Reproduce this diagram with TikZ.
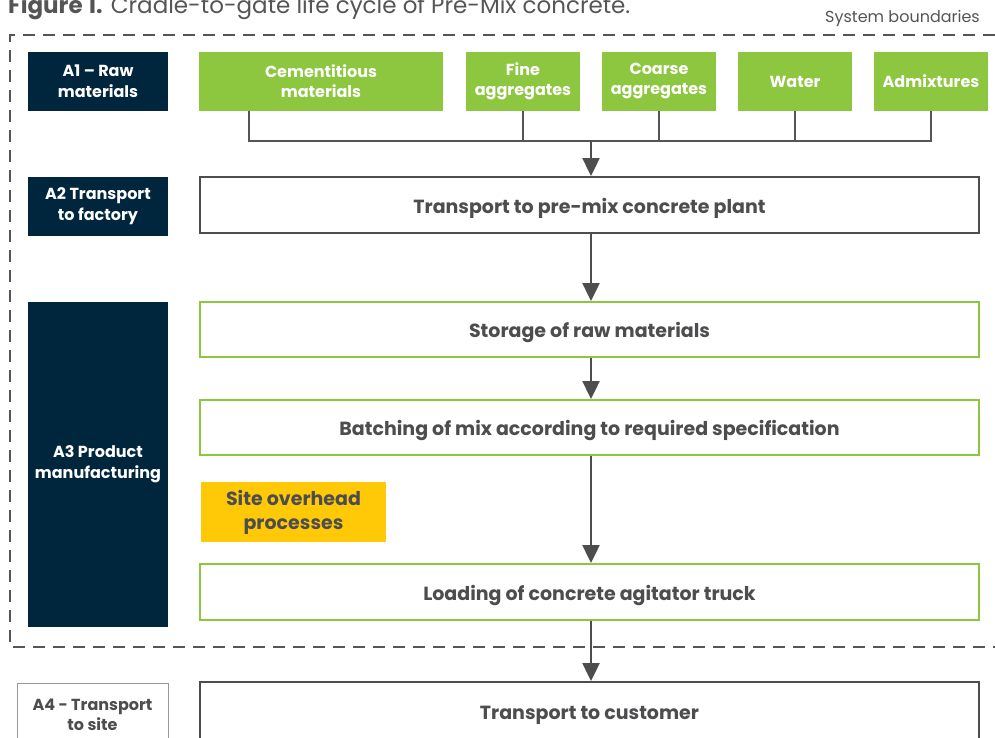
\documentclass[tikz,border=0pt]{standalone}
\usepackage{fontspec}
\setmainfont{Poppins}
\usetikzlibrary{arrows.meta,calc}
\definecolor{navy}{HTML}{00263E}
\definecolor{leaf}{HTML}{8DC63F}
\definecolor{sun}{HTML}{FFC907}
\definecolor{ink}{HTML}{4D4D4F}
\definecolor{line}{HTML}{555555}
\begin{document}
\begin{tikzpicture}[x=1pt,y=-1pt,
  lab/.style={fill=navy,text=white,font=\fontsize{16}{21}\selectfont\bfseries,align=center,inner sep=0pt,minimum width=140pt},
  mat/.style={fill=leaf,text=white,font=\fontsize{16}{20}\selectfont\bfseries,align=center,inner sep=0pt,minimum height=59pt},
  proc/.style={draw=ink,line width=2pt,fill=white,text=ink,font=\fontsize{19}{22}\selectfont\bfseries,minimum width=779pt,inner sep=0pt,text height=16pt,text depth=0pt},
  gproc/.style={proc,draw=leaf},
  arr/.style={draw=ink,line width=2.4pt,-{Triangle[length=18pt,width=17pt]}},
  conn/.style={draw=line,line width=1.3pt}]
\useasboundingbox (0,0) rectangle (995,737);
\fill[white] (0,0) rectangle (995,737);
% title
\node[anchor=base west,inner sep=0pt,text=line,font=\fontsize{23}{26}\selectfont] (title) at (8,13) {\textbf{Figure 1.} Cradle-to-gate life cycle of Pre-Mix concrete.};
\node[anchor=base east,inner sep=0pt,text=line,font=\fontsize{16}{18}\selectfont] (sb) at (980,22) {System boundaries};
% boundary
\draw[line,line width=2.4pt,dash pattern=on 12pt off 8pt] (995,35) -- (10,35) -- (10,647) -- (995,647);
% A1 row
\node[lab,minimum height=59pt] (a1) at (98,81.5) {A1 – Raw\\materials};
\node[mat,minimum width=244pt] (cem) at (321,81.5) {Cementitious\\materials};
\node[mat,minimum width=114pt] (fine) at (523,81.5) {Fine\\aggregates};
\node[mat,minimum width=114pt] (coarse) at (659,81.5) {Coarse\\aggregates};
\node[mat,minimum width=114pt] (water) at (795,81.5) {Water};
\node[mat,minimum width=114pt] (admix) at (931,81.5) {Admixtures};
% A2
\node[lab,minimum height=59pt] (a2) at (98,206.5) {A2 Transport\\to factory};
\node[proc,minimum height=56pt] (trans) at (589.5,205) {Transport to pre-mix concrete plant};
% A3
\node[lab,minimum height=325pt] (a3) at (98,464.5) {A3 Product\\manufacturing};
\node[gproc,minimum height=55pt] (store) at (589.5,329.5) {Storage of raw materials};
\node[gproc,minimum height=55pt] (batch) at (589.5,427.5) {Batching of mix according to required specification};
\node[fill=sun,text=ink,font=\fontsize{19}{24}\selectfont\bfseries,align=center,minimum width=185pt,minimum height=60pt,inner sep=0pt] (site) at (293.5,512) {Site overhead\\processes};
\node[gproc,minimum height=56pt] (load) at (589.5,592) {Loading of concrete agitator truck};
% A4
\node[draw=line!60,line width=0.8pt,fill=white,text=ink,font=\fontsize{16}{20}\selectfont\bfseries,align=center,minimum width=151pt,minimum height=64pt,inner sep=0pt] (a4) at (92.5,715) {A4 - Transport\\to site};
\node[proc,minimum height=66pt,text height=9pt] (cust) at (589.5,715) {Transport to customer};
% connectors
\coordinate (busL) at (249,141);
\coordinate (busR) at (931,141);
\coordinate (bus) at (591,141);
\draw[conn] ([xshift=-72pt]cem.south) -- (busL) -- (busR) -- (admix.south);
\draw[conn] (fine.south) -- (fine.south |- busL);
\draw[conn] (coarse.south) -- (coarse.south |- busL);
\draw[conn] (water.south) -- (water.south |- busL);
\draw[arr] (bus) -- (bus |- trans.north);
\draw[arr] (bus |- trans.south) -- (bus |- store.north);
\draw[arr] (bus |- store.south) -- (bus |- batch.north);
\draw[arr] (bus |- batch.south) -- (bus |- load.north);
\draw[arr] (bus |- load.south) -- (bus |- cust.north);
\end{tikzpicture}
\end{document}
